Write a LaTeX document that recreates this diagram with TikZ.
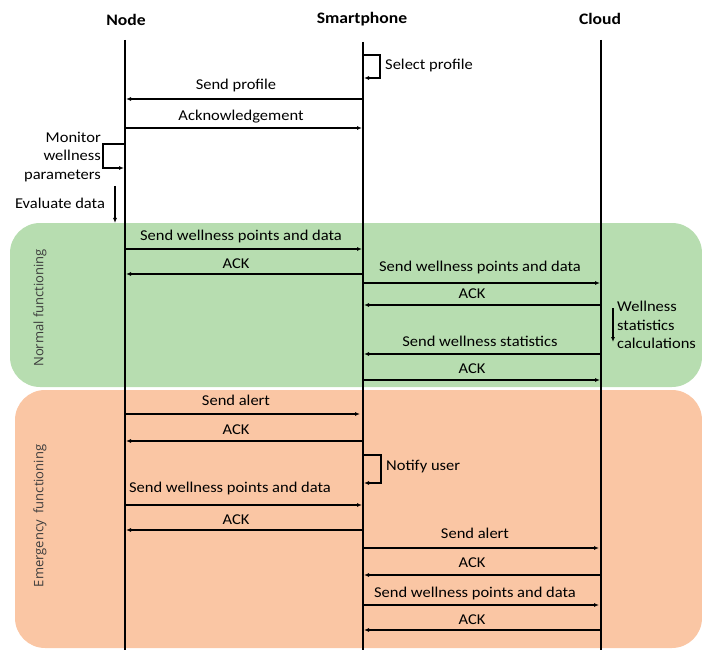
\documentclass[tikz,border=0pt]{standalone}
\usepackage{fontspec}
\setmainfont[FakeStretch=1.1]{Carlito}
\newfontfamily\sidefont{Open Sans}
\usetikzlibrary{arrows.meta}
\definecolor{normalbg}{RGB}{183,221,176}
\definecolor{emergbg}{RGB}{250,198,164}
\definecolor{sidegray}{RGB}{60,60,60}
\tikzset{
  life/.style={line width=1.4pt},
  msg/.style={line width=1.3pt,-{Latex[length=5pt,width=4pt]}},
  lbl/.style={font=\fontsize{15}{18.5}\selectfont,inner sep=0pt},
  head/.style={font=\fontsize{16}{18}\selectfont\bfseries,inner sep=0pt},
  side/.style={font=\sidefont\fontsize{13}{15}\selectfont,text=sidegray,rotate=90,inner sep=0pt},
  region/.style={rounded corners=30pt}
}
\begin{document}
\begin{tikzpicture}[x=1pt,y=-1pt]
\useasboundingbox (0,0) rectangle (702,650);
% regions
\fill[normalbg,region] (10,223) rectangle (702,387);
\fill[emergbg,region] (15,390) rectangle (702,648);
\node[side] (normal) at (40,308) {Normal functioning};
\node[side] (emerg) at (40,516) {Emergency\ \ functioning};
% headers
\node[head] (hnode) at (126,20) {Node};
\node[head] (hphone) at (362,19) {Smartphone};
\node[head] (hcloud) at (600,19) {Cloud};
% lifelines
\coordinate (nT) at (125,40); \coordinate (nB) at (125,650);
\coordinate (pT) at (363,42); \coordinate (pB) at (363,650);
\coordinate (cT) at (601,40); \coordinate (cB) at (601,650);
\draw[life] (nT) -- (nB);
\draw[life] (pT) -- (pB);
\draw[life] (cT) -- (cB);
% select profile
\draw[msg] (363,55) -- (380,55) -- (380,78) -- (364,78);
\node[lbl,anchor=west] (sel) at (385,66) {Select profile};
% send profile
\draw[msg] (363,99) -- (126,99);
\node[lbl] (l1) at (236,86) {Send profile};
\draw[msg] (125,128) -- (362,128);
\node[lbl] (l2) at (241,117) {Acknowledgement};
% monitor loop
\draw[msg] (125,144) -- (103,144) -- (103,168) -- (124,168);
\node[lbl,anchor=east,align=right] (mon) at (101,157) {Monitor\\wellness\\parameters};
% evaluate
\draw[msg] (115,186) -- (115,223);
\node[lbl] (ev) at (60,203) {Evaluate data};
% normal functioning
\draw[msg] (125,249) -- (362,249);
\node[lbl] (l3) at (241,237) {Send wellness points and data};
\draw[msg] (363,274) -- (126,274);
\node[lbl] (l4) at (236,264) {ACK};
\draw[msg] (363,283) -- (600,283);
\node[lbl] (l5) at (480,268) {Send wellness points and data};
\draw[msg] (601,305) -- (364,305);
\node[lbl] (l6) at (472,294) {ACK};
\draw[msg] (613,308) -- (613,342);
\node[lbl,anchor=west,align=left] (ws) at (617,325) {Wellness\\statistics\\calculations};
\draw[msg] (601,354) -- (364,354);
\node[lbl] (l7) at (480,341) {Send wellness statistics};
\draw[msg] (363,380) -- (600,380);
\node[lbl] (l8) at (472,369) {ACK};
% emergency
\draw[msg] (125,414) -- (360,414);
\node[lbl] (l9) at (236,400) {Send alert};
\draw[msg] (363,441) -- (126,441);
\node[lbl] (l10) at (236,430) {ACK};
\draw[msg] (363,455) -- (381,455) -- (381,483) -- (364,483);
\node[lbl,anchor=west] (nu) at (386,467) {Notify user};
\draw[msg] (125,505) -- (362,505);
\node[lbl] (l11) at (230,488) {Send wellness points and data};
\draw[msg] (363,530) -- (126,530);
\node[lbl] (l12) at (236,520) {ACK};
\draw[msg] (363,548) -- (599,548);
\node[lbl] (l13) at (475,533) {Send alert};
\draw[msg] (601,575) -- (364,575);
\node[lbl] (l14) at (472,563) {ACK};
\draw[msg] (363,605) -- (599,605);
\node[lbl] (l15) at (475,593) {Send wellness points and data};
\draw[msg] (601,630) -- (364,630);
\node[lbl] (l16) at (472,620) {ACK};
\end{tikzpicture}
\end{document}
